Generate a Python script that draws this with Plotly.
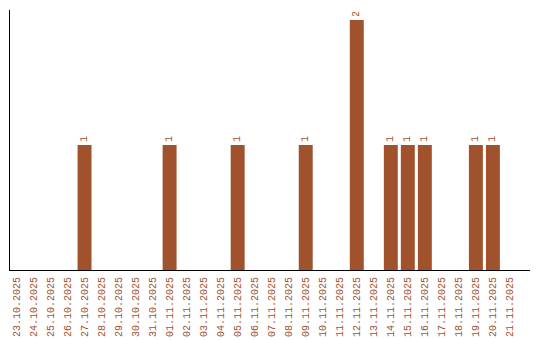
import plotly.graph_objects as go

dates = ["23.10.2025", "24.10.2025", "25.10.2025", "26.10.2025", "27.10.2025",
         "28.10.2025", "29.10.2025", "30.10.2025", "31.10.2025", "01.11.2025",
         "02.11.2025", "03.11.2025", "04.11.2025", "05.11.2025", "06.11.2025",
         "07.11.2025", "08.11.2025", "09.11.2025", "10.11.2025", "11.11.2025",
         "12.11.2025", "13.11.2025", "14.11.2025", "15.11.2025", "16.11.2025",
         "17.11.2025", "18.11.2025", "19.11.2025", "20.11.2025", "21.11.2025"]
counts = [0, 0, 0, 0, 1, 0, 0, 0, 0, 1,
          0, 0, 0, 1, 0, 0, 0, 1, 0, 0,
          2, 0, 1, 1, 1, 0, 0, 1, 1, 0]

color = "#A0522D"
font_family = "Liberation Mono"

labels = [str(v) if v > 0 else "" for v in counts]

fig = go.Figure(go.Bar(
    x=dates, y=counts,
    marker=dict(color=color, line=dict(width=0)),
    text=labels, textposition="outside", textangle=-90,
    textfont=dict(family=font_family, size=10, color=color),
    cliponaxis=False,
))

fig.update_layout(
    width=540, height=340,
    margin=dict(l=10, r=10, t=10, b=70),
    paper_bgcolor="white", plot_bgcolor="white",
    bargap=0.18,
    showlegend=False,
    xaxis=dict(
        type="category", range=[-0.38, 30.18],
        showline=True, linecolor="black", linewidth=1,
        showgrid=False, ticks="", tickangle=-90, automargin=False,
        ticklabelstandoff=2,
        tickfont=dict(family=font_family, size=10, color=color),
    ),
    yaxis=dict(
        range=[0, 2.08], showline=True, linecolor="black", linewidth=1,
        showgrid=False, zeroline=False, showticklabels=False, ticks="",
        automargin=False,
    ),
)

fig.write_html("out.html")
